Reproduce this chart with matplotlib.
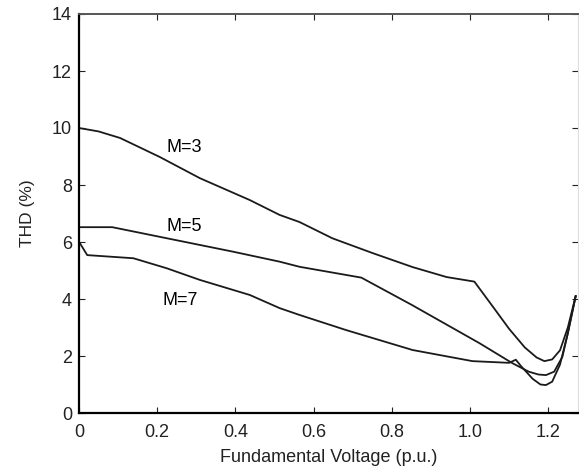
import numpy as np
import matplotlib
matplotlib.use("Agg")
import matplotlib.pyplot as plt

plt.rcParams['font.family'] = ['Liberation Sans', 'DejaVu Sans']

# THD curves vs fundamental voltage for three module counts
v_m3 = [0.0, 0.05, 0.105, 0.207, 0.309, 0.437, 0.513, 0.564, 0.648, 0.751, 0.853, 0.94, 1.011,
        1.06, 1.10, 1.14, 1.17, 1.19, 1.21, 1.23, 1.25, 1.27]
thd_m3 = [10.0, 9.88, 9.65, 8.98, 8.24, 7.47, 6.95, 6.7, 6.13, 5.61, 5.12, 4.77, 4.61,
          3.7, 2.95, 2.3, 1.95, 1.82, 1.88, 2.2, 3.0, 4.1]

v_m5 = [0.0, 0.085, 0.207, 0.394, 0.513, 0.564, 0.722, 0.85, 1.024, 1.108, 1.15, 1.175, 1.194,
        1.215, 1.236, 1.25, 1.27]
thd_m5 = [6.52, 6.52, 6.18, 5.66, 5.31, 5.13, 4.75, 3.8, 2.45, 1.75, 1.45, 1.35, 1.33,
          1.45, 1.97, 2.8, 4.1]

v_m7 = [0.0, 0.021, 0.139, 0.224, 0.309, 0.437, 0.513, 0.564, 0.683, 0.853, 1.006, 1.10, 1.117,
        1.13, 1.16, 1.18, 1.194, 1.21, 1.23, 1.25, 1.27]
thd_m7 = [6.01, 5.54, 5.43, 5.08, 4.67, 4.14, 3.68, 3.44, 2.91, 2.21, 1.82, 1.76, 1.87,
          1.65, 1.2, 1.0, 0.98, 1.1, 1.7, 2.8, 4.1]

x_ticks = [0, 0.2, 0.4, 0.6, 0.8, 1.0, 1.2]
x_tick_labels = ['0', '0.2', '0.4', '0.6', '0.8', '1.0', '1.2']
y_ticks = [0, 2, 4, 6, 8, 10, 12, 14]

fig = plt.figure(figsize=(5.79, 4.73), dpi=100)
ax = fig.add_axes([79/579, 1 - 413/473, (578 - 79)/579, (413 - 14)/473])

for v, thd in [(v_m3, thd_m3), (v_m5, thd_m5), (v_m7, thd_m7)]:
    ax.plot(v, thd, color='#1a1a1a', lw=1.3)

ax.text(0.268, 9.3, 'M=3', ha='center', va='center', fontsize=13)
ax.text(0.268, 6.56, 'M=5', ha='center', va='center', fontsize=13)
ax.text(0.26, 3.96, 'M=7', ha='center', va='center', fontsize=13)

ax.set_xlim(0, 1.276)
ax.set_ylim(0, 14)
ax.set_xticks(x_ticks)
ax.set_xticklabels(x_tick_labels)
ax.set_yticks(y_ticks)
ax.tick_params(direction='in', length=4, width=0.8, labelsize=13,
               top=True, right=True, colors='#222222')
ax.tick_params(axis='x', pad=8)
ax.tick_params(axis='y', pad=5)

ax.spines['left'].set_linewidth(1.6)
ax.spines['bottom'].set_linewidth(1.6)
ax.spines['top'].set_linewidth(1.4)
ax.spines['top'].set_color('#555555')
ax.spines['right'].set_color('#dddddd')

ax.set_xlabel('Fundamental Voltage (p.u.)', fontsize=13, labelpad=6, color='#222222')
ax.set_ylabel('THD (%)', fontsize=12.5, labelpad=12, color='#222222')

fig.savefig('out.png', dpi=100)
